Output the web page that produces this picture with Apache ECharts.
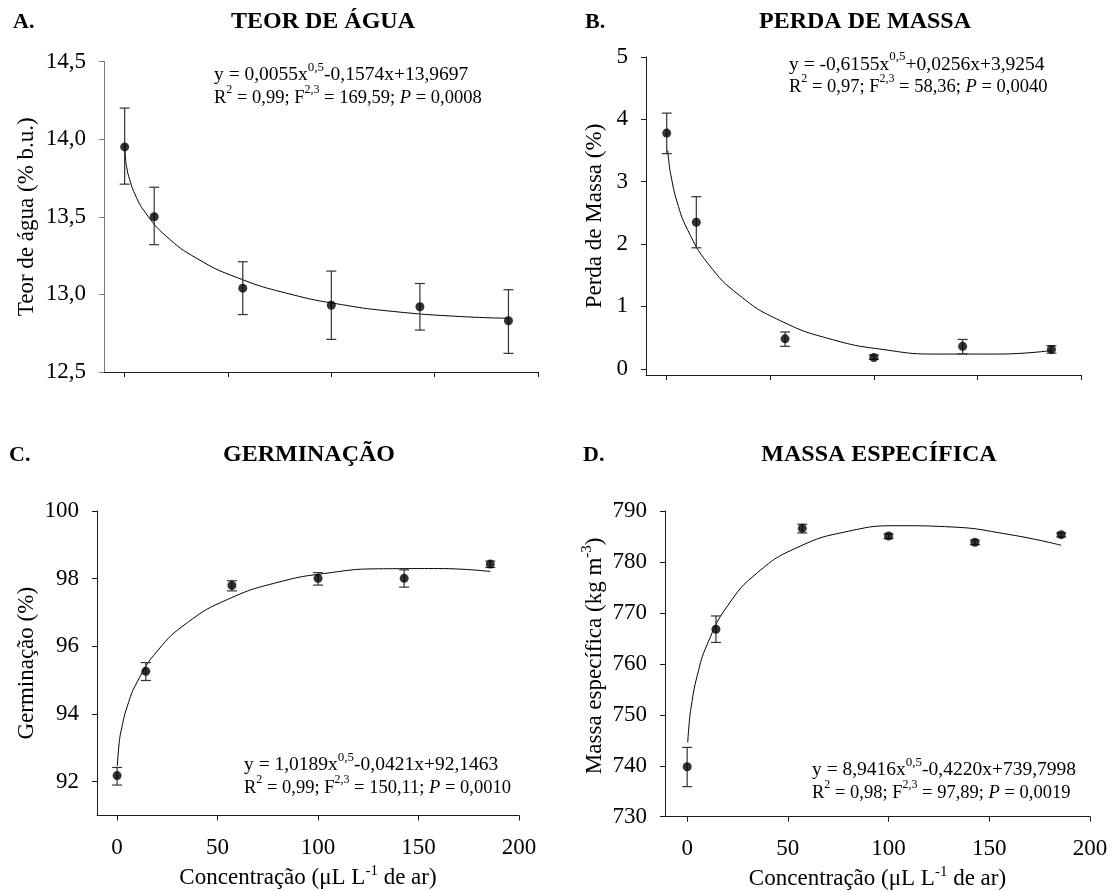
<!DOCTYPE html>
<html>
<head>
<meta charset="utf-8">
<script src="https://cdn.jsdelivr.net/npm/echarts@6/dist/echarts.min.js"></script>
<style>html,body{margin:0;padding:0;background:#fff}#c{width:1116px;height:891px}</style>
</head>
<body>
<div id="c"></div>
<script>
// ---- data ----
const xConc = [0, 14.29, 57.14, 100, 142.86, 185.71];
const xTicks = [0, 50, 100, 150, 200];

// A. Teor de água
const teorMean = [13.95, 13.50, 13.04, 12.93, 12.92, 12.83];
const teorLow  = [13.71, 13.32, 12.87, 12.71, 12.77, 12.62];
const teorHigh = [14.20, 13.69, 13.21, 13.15, 13.07, 13.03];
const curveXA = [0, 0.5, 1, 2, 5, 10, 20, 35, 55, 80, 105, 130, 160, 185.71];
const curveYA = [13.970, 13.861, 13.818, 13.758, 13.645, 13.527, 13.376, 13.231, 13.105, 13.002, 12.934, 12.890, 12.859, 12.846];

// B. Perda de massa
const perdaMean = [3.78, 2.35, 0.48, 0.18, 0.36, 0.31];
const perdaLow  = [3.45, 1.94, 0.36, 0.15, 0.24, 0.25];
const perdaHigh = [4.10, 2.76, 0.59, 0.22, 0.47, 0.37];
const curveXB = [0.5, 1, 2, 5, 10, 20, 35, 55, 80, 105, 130, 160, 185.71];
const curveYB = [3.503, 3.336, 3.106, 2.677, 2.235, 1.685, 1.180, 0.769, 0.468, 0.306, 0.236, 0.236, 0.292];

// C. Germinação
const germMean = [92.18, 95.26, 97.80, 98.01, 98.01, 98.43];
const germLow  = [91.90, 94.99, 97.64, 97.81, 97.75, 98.33];
const germHigh = [92.42, 95.52, 97.94, 98.18, 98.26, 98.52];
const curveXC = [0.1, 1, 2, 5, 10, 20, 35, 55, 80, 105, 130, 160, 185.71];
const curveYC = [92.464, 93.123, 93.503, 94.214, 94.947, 95.861, 96.701, 97.387, 97.892, 98.167, 98.291, 98.299, 98.213];

// D. Massa específica
const massaMean = [739.8, 766.8, 786.6, 785.1, 783.85, 785.35];
const massaLow  = [735.9, 764.2, 785.7, 784.6, 783.4, 784.9];
const massaHigh = [743.6, 769.4, 787.4, 785.5, 784.3, 785.7];
const curveXD = [0.3, 1, 2, 5, 10, 20, 35, 55, 80, 105, 130, 160, 185.71];
const curveYD = [744.57, 748.32, 751.60, 757.68, 763.86, 771.35, 777.93, 782.90, 786.02, 787.11, 786.89, 785.38, 783.28];

const yTicksB = [0, 1, 2, 3, 4, 5];
const yTicksC = [92, 94, 96, 98, 100];

// ---- styling ----
const FONT = '"Liberation Serif", "Times New Roman", Times, serif';
const AX = '#1a1a1a';
const LBL = 23;

const chart = echarts.init(document.getElementById('c'), null, {renderer: 'canvas'});

const nameRich = {
  n: {fontSize: LBL, fontFamily: FONT, color: '#000', lineHeight: 26, verticalAlign: 'bottom'},
  s: {fontSize: 15, fontFamily: FONT, color: '#000', lineHeight: 15, verticalAlign: 'top'}
};

function xAxisCfg(grid, min, showLabels) {
  const a = {
    type: 'value', gridIndex: grid, min: min, max: 200,
    axisLine: {show: true, onZero: false, lineStyle: {color: AX, width: 1}},
    axisTick: {show: true, inside: false, length: 5, customValues: xTicks, lineStyle: {color: AX}},
    axisLabel: {show: showLabels, customValues: xTicks, margin: 21, fontSize: LBL, fontFamily: FONT, color: '#000'},
    splitLine: {show: false}
  };
  if (showLabels) {
    a.name = '{n|Concentração (μL L}{s|-1}{n| de ar)}';
    a.nameLocation = 'middle';
    a.nameGap = 48;
    a.nameTextStyle = {fontSize: LBL, fontFamily: FONT, color: '#000', rich: nameRich};
  }
  return a;
}
function yAxisCfg(grid, opts) {
  const a = {
    type: 'value', gridIndex: grid, min: opts.min, max: opts.max,
    axisLine: {show: true, onZero: false, lineStyle: {color: opts.lineColor || AX, width: 1}},
    axisTick: {show: true, inside: false, length: 5, lineStyle: {color: opts.lineColor || AX}},
    axisLabel: {margin: 18, fontSize: LBL, fontFamily: FONT, color: '#000'},
    splitLine: {show: false},
    name: opts.name, nameLocation: 'middle', nameGap: opts.gap,
    nameTextStyle: {fontSize: LBL, fontFamily: FONT, color: '#000', rich: nameRich, padding: opts.namePad || 0}
  };
  if (opts.interval != null) a.interval = opts.interval;
  if (opts.ticks) { a.axisTick.customValues = opts.ticks; a.axisLabel.customValues = opts.ticks; }
  if (opts.formatter) a.axisLabel.formatter = opts.formatter;
  return a;
}

function errSeries(idx, lo, hi) {
  return {
    type: 'custom', xAxisIndex: idx, yAxisIndex: idx, z: 3,
    data: xConc.map((x, i) => [x, lo[i], hi[i]]),
    encode: {x: 0, y: [1, 2]},
    renderItem: function (params, api) {
      const x = api.value(0);
      const pLo = api.coord([x, api.value(1)]);
      const pHi = api.coord([x, api.value(2)]);
      const w = 5;
      const st = {stroke: '#333', lineWidth: 1.2};
      return {type: 'group', children: [
        {type: 'line', shape: {x1: pLo[0], y1: pLo[1], x2: pHi[0], y2: pHi[1]}, style: st},
        {type: 'line', shape: {x1: pLo[0] - w, y1: pLo[1], x2: pLo[0] + w, y2: pLo[1]}, style: st},
        {type: 'line', shape: {x1: pHi[0] - w, y1: pHi[1], x2: pHi[0] + w, y2: pHi[1]}, style: st}
      ]};
    }
  };
}
function ptSeries(idx, mean) {
  return {type: 'scatter', xAxisIndex: idx, yAxisIndex: idx, z: 4, symbol: 'circle', symbolSize: 9,
    itemStyle: {color: '#000'}, data: xConc.map((x, i) => [x, mean[i]])};
}
function curveSeries(idx, cx, cy) {
  return {type: 'line', xAxisIndex: idx, yAxisIndex: idx, z: 2, showSymbol: false, symbol: 'none',
    smooth: 0.5, lineStyle: {color: '#000', width: 1},
    data: cx.map((x, i) => [x, cy[i]])};
}

// ---- annotation text ----
function makeRich(size, supSize) {
  return {
    n: {fontSize: size, fontFamily: FONT, fill: '#000', lineHeight: 24, verticalAlign: 'bottom'},
    i: {fontSize: size, fontFamily: FONT, fontStyle: 'italic', fill: '#000', lineHeight: 24, verticalAlign: 'bottom'},
    s: {fontSize: supSize, fontFamily: FONT, fill: '#000', lineHeight: supSize, verticalAlign: 'top'}
  };
}
const richEq1 = makeRich(19.5, 13);
const richEq2 = makeRich(18.5, 12);
function eqText(x, baseline, text, rich) {
  return {type: 'text', x: x, y: baseline - 20.5, silent: true,
    style: {text: text, rich: rich, align: 'left', verticalAlign: 'top', fontSize: 19, fontFamily: FONT, fill: '#000'}};
}
function boldText(x, y, text, align, size) {
  return {type: 'text', x: x, y: y, silent: true,
    style: {text: text, fontSize: size, fontWeight: 'bold', fontFamily: FONT, fill: '#000', align: align, verticalAlign: 'middle'}};
}

const graphics = [
  boldText(13, 22, 'A.', 'left', 22), boldText(323, 22, 'TEOR DE ÁGUA', 'center', 24),
  boldText(585, 22, 'B.', 'left', 22), boldText(865, 22, 'PERDA DE MASSA', 'center', 24),
  boldText(9, 455, 'C.', 'left', 22), boldText(309, 455, 'GERMINAÇÃO', 'center', 24),
  boldText(583, 455, 'D.', 'left', 22), boldText(879, 455, 'MASSA ESPECÍFICA', 'center', 24),
  eqText(214, 81.5, '{n|y = 0,0055x}{s|0,5}{n|-0,1574x+13,9697}', richEq1),
  eqText(214, 104, '{n|R}{s|2}{n| = 0,99; F}{s|2,3}{n| = 169,59; }{i|P}{n| = 0,0008}', richEq2),
  eqText(789, 71, '{n|y = -0,6155x}{s|0,5}{n|+0,0256x+3,9254}', richEq1),
  eqText(789, 93, '{n|R}{s|2}{n| = 0,97; F}{s|2,3}{n| = 58,36; }{i|P}{n| = 0,0040}', richEq2),
  eqText(244, 771.5, '{n|y = 1,0189x}{s|0,5}{n|-0,0421x+92,1463}', richEq1),
  eqText(244, 794, '{n|R}{s|2}{n| = 0,99; F}{s|2,3}{n| = 150,11; }{i|P}{n| = 0,0010}', richEq2),
  eqText(812, 776.5, '{n|y = 8,9416x}{s|0,5}{n|-0,4220x+739,7998}', richEq1),
  eqText(812, 799, '{n|R}{s|2}{n| = 0,98; F}{s|2,3}{n| = 97,89; }{i|P}{n| = 0,0019}', richEq2)
];

const option = {
  animation: false,
  backgroundColor: '#fff',
  textStyle: {fontFamily: FONT},
  grid: [
    {left: 104, top: 61.5, width: 434, height: 310.5, outerBoundsMode: 'none', containLabel: false},
    {left: 646, top: 57, width: 435, height: 318, outerBoundsMode: 'none', containLabel: false},
    {left: 97, top: 511, width: 422, height: 304.5, outerBoundsMode: 'none', containLabel: false},
    {left: 665, top: 511, width: 425, height: 305.7, outerBoundsMode: 'none', containLabel: false}
  ],
  xAxis: [
    xAxisCfg(0, -10, false),
    xAxisCfg(1, -10, false),
    xAxisCfg(2, -10, true),
    xAxisCfg(3, -11, true)
  ],
  yAxis: [
    yAxisCfg(0, {min: 12.5, max: 14.5, interval: 0.5, name: 'Teor de água (% b.u.)', gap: 66, lineColor: '#7a7a7a',
      formatter: v => v.toFixed(1).replace('.', ',')}),
    yAxisCfg(1, {min: -0.1, max: 5, ticks: yTicksB, name: 'Perda de Massa (%)', gap: 40}),
    yAxisCfg(2, {min: 91, max: 100, ticks: yTicksC, name: 'Germinação (%)', gap: 59}),
    yAxisCfg(3, {min: 730, max: 790, interval: 10, name: '{n|Massa específica (kg m}{s|-3}{n|)}', gap: 59,
      namePad: [0, 0, 0, 16]})
  ],
  series: [
    curveSeries(0, curveXA, curveYA), errSeries(0, teorLow, teorHigh), ptSeries(0, teorMean),
    curveSeries(1, curveXB, curveYB), errSeries(1, perdaLow, perdaHigh), ptSeries(1, perdaMean),
    curveSeries(2, curveXC, curveYC), errSeries(2, germLow, germHigh), ptSeries(2, germMean),
    curveSeries(3, curveXD, curveYD), errSeries(3, massaLow, massaHigh), ptSeries(3, massaMean)
  ],
  graphic: graphics
};
chart.setOption(option);
</script>
</body>
</html>
